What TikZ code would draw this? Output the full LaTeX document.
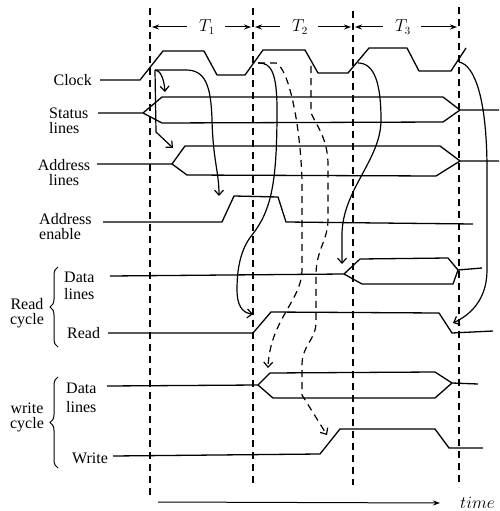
\documentclass[tikz,border=0pt]{standalone}
\usepackage{fontspec}
\setmainfont{Liberation Serif}
\usetikzlibrary{arrows.meta,decorations.pathreplacing}
\tikzset{
  wave/.style={line width=1.3pt, line join=round},
  vline/.style={line width=1.3pt, dash pattern=on 7pt off 5pt},
  cause/.style={line width=1.2pt, -{Straight Barb[length=5pt,width=9pt]}},
  dcause/.style={cause, dash pattern=on 7pt off 5pt},
  span/.style={line width=1pt, -{Stealth[length=7pt,width=5pt]}},
  lbl/.style={inner sep=0pt, font=\fontsize{16}{15}\selectfont},
  brc/.style={line width=1pt, decorate, decoration={brace, amplitude=8pt}}
}
\begin{document}
\begin{tikzpicture}[x=1pt,y=-1pt]
\useasboundingbox (0,0) rectangle (499,511);
% vertical dashed lines
\draw[vline] (150,8) -- (150,496);
\draw[vline] (253,8) -- (253,487);
\draw[vline] (353,11) -- (353,485);
\draw[vline] (459,7) -- (459,487);
% period labels
\node[lbl] (t1) at (207,27) {$T_1$};
\node[lbl] (t2) at (300,27) {$T_2$};
\node[lbl] (t3) at (403,27) {$T_3$};
\draw[span] (t1.west) ++(-12,0) -- (152,27);
\draw[span] (t1.east) ++(10,0) -- (251,27);
\draw[span] (t2.west) ++(-12,0) -- (255,27);
\draw[span] (t2.east) ++(10,0) -- (351,27);
\draw[span] (t3.west) ++(-12,0) -- (355,27);
\draw[span] (t3.east) ++(10,0) -- (457,27);
% labels (base anchor = baseline of last line)
\node[lbl, anchor=base east] (clk) at (92,85) {Clock};
\node[lbl, anchor=base west, align=left] (stl) at (49,133) {Status\\lines};
\node[lbl, anchor=base, align=center] (adl) at (64,185) {Address\\lines};
\node[lbl, anchor=base west, align=left, font=\fontsize{16}{15}\selectfont] (aen) at (39,239) {Address\\enable};
\node[lbl, anchor=base west, align=left, font=\fontsize{16}{17}\selectfont] (rdl) at (64,299) {Data\\lines};
\node[lbl, anchor=base west] (rd) at (67,338) {Read};
\node[lbl, anchor=base, align=center, font=\fontsize{16}{15}\selectfont] (rcy) at (27,324) {Read\\cycle};
\node[lbl, anchor=base west, align=left, font=\fontsize{16}{19}\selectfont] (wdl) at (66,412) {Data\\lines};
\node[lbl, anchor=base west] (wr) at (72,463) {Write};
\node[lbl, anchor=base, align=center, font=\fontsize{16}{15}\selectfont] (wcy) at (27,428) {write\\cycle};
\node[lbl, anchor=west] (tm) at (460,503) {$time$};
% braces
\draw[brc] (58,347) -- (58,267);
\draw[brc] (58,468) -- (58,377);
% waveforms
\draw[wave] (100,80) -- (140,80) -- (163,51) -- (204,51) -- (217,75) -- (245,75) -- (263,50) -- (305,50) -- (318,73) -- (348,73) -- (369,48) -- (407,48) -- (419,71) -- (451,71) -- (466,48);
\draw[wave] (98,113) -- (143,113) -- (162,97) -- (443,97) -- (460,110) -- (499,110);
\draw[wave] (143,113) -- (162,123) -- (443,122) -- (460,110);
\draw[wave] (97,164) -- (172,164) -- (185,146) -- (440,146) -- (460,161) -- (499,161);
\draw[wave] (172,164) -- (187,175) -- (436,176) -- (460,161);
\draw[wave] (103,222) -- (222,222) -- (234,196) -- (278,197) -- (286,222) -- (473,224);
\draw[wave] (110,276) -- (344,274) -- (360,259) -- (448,258) -- (458,270) -- (482,268);
\draw[wave] (344,274) -- (362,284) -- (453,284) -- (458,270);
\draw[wave] (108,333) -- (253,333) -- (271,312) -- (439,313) -- (452,333) -- (493,331);
\draw[wave] (107,386) -- (258,385) -- (270,373) -- (435,372) -- (452,383) -- (478,384);
\draw[wave] (258,385) -- (273,398) -- (435,398) -- (452,383);
\draw[wave] (113,456) -- (320,454) -- (340,429) -- (435,429) -- (449,448) -- (483,448);
% time axis
\draw[span] (158,502) -- (440,503);
% cause-effect arrows
\coordinate (c1) at (155,70);
\coordinate (c2) at (258,63);
\coordinate (c3) at (311,66);
\coordinate (c4) at (358,63);
\coordinate (c5) at (459,62);
\draw[cause] (c1) .. controls (160,70) and (164,78) .. (165,92);
\draw[cause] (c1) -- (156,132) -- (173,148);
\draw[cause] (c1) -- (186,70) .. controls (205,70) and (211,85) .. (212,120) .. controls (213,160) and (219,172) .. (219,196);
\draw[cause] (c2) .. controls (272,62) and (277,75) .. (277,110) .. controls (277,180) and (272,210) .. (252,235) .. controls (240,250) and (237,270) .. (237,290) .. controls (237,305) and (242,313) .. (253,314);
\draw[dcause] (c2) -- (276,63) .. controls (288,68) and (300,120) .. (302,180) -- (302,270) .. controls (302,300) and (270,320) .. (268,368);
\draw[dcause] (c3) -- (311,113) .. controls (318,128) and (328,140) .. (328,165) -- (328,220) .. controls (328,240) and (316,250) .. (316,275) -- (316,322) .. controls (316,340) and (302,345) .. (302,365) -- (302,395) -- (327,435);
\draw[cause] (c4) .. controls (375,63) and (381,85) .. (381,120) .. controls (381,160) and (342,190) .. (342,235) -- (342,264);
\draw[cause] (c5) .. controls (475,65) and (487,100) .. (487,170) -- (487,270) .. controls (487,300) and (470,315) .. (453,323);
\end{tikzpicture}
\end{document}
